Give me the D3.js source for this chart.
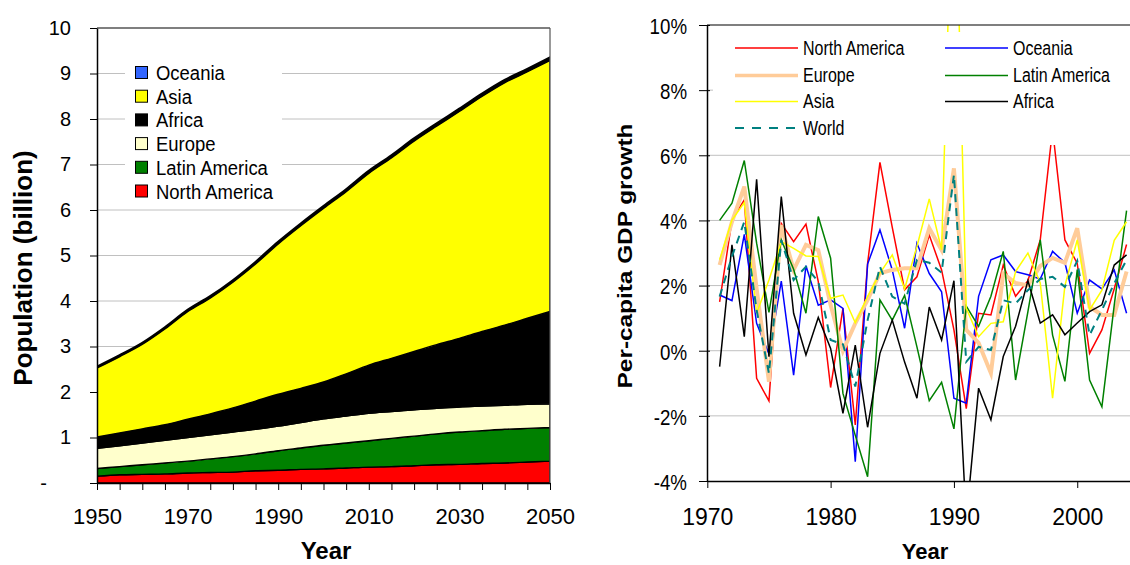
<!DOCTYPE html>
<html>
<head>
<meta charset="utf-8">
<script src="https://cdn.jsdelivr.net/npm/d3@7"></script>
<style>
  body { margin: 0; background: #fff; }
  svg { display: block; font-family: "Liberation Sans", Arial, sans-serif; }
</style>
</head>
<body>
<svg id="chart" width="1130" height="565"></svg>
<script>
// ---------- Left chart data (billion) ----------
const popYears = d3.range(1950, 2051, 5);
const northAmerica = [0.15,0.18,0.19,0.20,0.22,0.23,0.24,0.27,0.28,0.30,0.31,0.33,0.35,0.36,0.38,0.40,0.41,0.43,0.44,0.46,0.48];
const latinAmerica = [0.17,0.18,0.21,0.24,0.26,0.30,0.34,0.37,0.43,0.47,0.52,0.55,0.58,0.62,0.65,0.68,0.71,0.72,0.74,0.74,0.74];
const europe       = [0.44,0.46,0.48,0.50,0.52,0.53,0.54,0.54,0.54,0.56,0.58,0.59,0.60,0.59,0.58,0.56,0.55,0.54,0.53,0.53,0.52];
const africa       = [0.25,0.28,0.31,0.34,0.40,0.46,0.53,0.62,0.70,0.75,0.81,0.93,1.06,1.17,1.28,1.40,1.51,1.64,1.76,1.89,2.03];
const asia         = [1.53,1.69,1.87,2.12,2.38,2.56,2.78,3.03,3.32,3.59,3.83,4.02,4.23,4.42,4.64,4.82,5.00,5.18,5.34,5.43,5.53];
const oceania      = [0.013,0.014,0.016,0.018,0.019,0.021,0.023,0.025,0.027,0.029,0.031,0.033,0.035,0.037,0.039,0.041,0.042,0.044,0.045,0.047,0.048];
const popKeys   = ["North America","Latin America","Europe","Africa","Asia","Oceania"];
const popSeries = [northAmerica, latinAmerica, europe, africa, asia, oceania];
const popColors = ["#FF0000","#008000","#FFFFCC","#000000","#FFFF00","#3366FF"];
const popYTicks = [0,1,2,3,4,5,6,7,8,9,10];
const popXTicks = d3.range(1950, 2051, 5);

// ---------- Right chart data (% per-capita GDP growth) ----------
const gdpYears = d3.range(1971, 2005);
const gdpNorthAmerica = [1.5,4.01,4.63,-0.85,-1.54,3.91,3.35,3.89,2.12,-1.13,1.3,-2.28,2.68,5.78,3.79,1.87,2.27,3.55,2.48,0.64,-1.78,1.15,1.1,2.63,1.67,2.15,3.4,6.8,3.4,2.68,-0.08,0.64,1.9,3.26];
const gdpOceania      = [1.71,1.54,3.57,0.84,-0.1,2.14,-0.75,2.61,1.4,1.56,1.3,-3.41,2.66,3.71,2.48,0.69,3.3,2.37,1.81,-1.46,-1.61,1.67,2.79,2.94,2.43,2.33,2.2,3.05,2.7,1.15,2.17,1.9,2.48,1.15];
const gdpEurope       = [2.63,3.96,5.04,1.9,-0.95,3.86,2.48,3.25,3.09,1.4,0.0,0.84,1.56,2.38,2.48,2.53,2.53,3.76,3.09,5.6,0.64,0.24,-0.69,2.37,2.08,2.0,2.6,2.85,2.7,3.76,1.35,1.1,1.1,2.43];
const gdpLatinAmerica = [4.0,4.53,5.84,3.3,1.18,3.4,2.5,1.15,4.12,2.84,-1.31,-2.6,-3.87,1.56,0.94,1.7,0.12,-1.53,-0.97,-2.4,1.37,0.75,1.67,3.05,-0.9,1.2,3.4,0.48,-0.94,2.49,-0.9,-1.72,1.4,4.3];
const gdpAsia         = [2.79,4.01,4.55,1.15,2.17,3.35,3.14,2.91,2.89,1.61,1.71,0.86,1.66,2.38,2.94,1.9,3.2,4.66,3.1,16.5,1.3,0.43,0.84,0.89,2.43,3.0,2.08,-1.46,2.0,3.4,1.25,1.86,3.39,3.96];
const gdpAfrica       = [-0.49,3.25,0.43,5.26,-0.18,4.73,1.15,-0.13,1.02,0.07,-1.92,0.17,-2.35,-0.08,0.94,-0.35,-1.46,1.34,0.33,2.15,-5.2,-1.15,-2.12,-0.18,0.75,2.15,0.85,1.1,0.49,0.85,1.2,1.41,2.63,2.94];
const gdpWorld        = [1.66,2.89,3.96,1.25,-0.7,3.4,2.17,2.58,2.12,0.33,0.2,-1.1,0.94,2.58,1.66,1.44,2.79,2.7,2.4,5.4,-0.34,0.12,0.02,1.55,1.45,1.86,2.2,2.27,1.96,2.76,0.48,1.25,2.07,2.79];
const gdpNames  = ["North America","Oceania","Europe","Latin America","Asia","Africa","World"];
const gdpSeries = [gdpNorthAmerica,gdpOceania,gdpEurope,gdpLatinAmerica,gdpAsia,gdpAfrica,gdpWorld];
const gdpColors = ["#FF0000","#0000FF","#FFCC99","#008000","#FFFF00","#000000","#008080"];
const gdpWidths = [1.5,1.5,4,1.5,1.5,1.5,2];
const gdpDash   = [null,null,null,null,null,null,"8,6"];
const gdpYTicks = [-4,-2,0,2,4,6,8,10];
const gdpXTicks = [1970,1980,1990,2000];

const svg = d3.select("#chart");

// ================= LEFT CHART =================
const xL = d3.scaleLinear().domain([1950, 2050]).range([97, 550]);
const yL = d3.scaleLinear().domain([0, 10]).range([483, 28]);

const popTable = popYears.map((yr, i) => {
  const row = { year: yr };
  popKeys.forEach((k, j) => row[k] = popSeries[j][i]);
  return row;
});
const stacked = d3.stack().keys(popKeys)(popTable);

const gL = svg.append("g");
gL.selectAll(".gridL").data(popYTicks.filter(v => v > 0 && v < 10)).join("line")
  .attr("x1", 97).attr("x2", 550)
  .attr("y1", d => yL(d)).attr("y2", d => yL(d))
  .attr("stroke", "#c0c0c0").attr("stroke-width", 1);

gL.append("clipPath").attr("id", "clipL").append("rect")
  .attr("x", 97).attr("y", 28).attr("width", 453).attr("height", 455);

const area = d3.area()
  .curve(d3.curveMonotoneX)
  .x(d => xL(d.data.year))
  .y0(d => yL(d[0]))
  .y1(d => yL(d[1]));

gL.append("g").attr("clip-path", "url(#clipL)")
  .selectAll("path").data(stacked).join("path")
  .attr("d", area)
  .attr("fill", (d, i) => popColors[i])
  .attr("stroke", "#000")
  .attr("stroke-width", (d, i) => i === 5 ? 2.5 : 1.4)
  .attr("stroke-linejoin", "round");

gL.append("line").attr("x1", 97).attr("x2", 550).attr("y1", 28).attr("y2", 28).attr("stroke", "#000").attr("stroke-width", 1.2);
gL.append("line").attr("x1", 550).attr("x2", 550).attr("y1", 28).attr("y2", 483).attr("stroke", "#555").attr("stroke-width", 1.2);

const axL = gL.append("g").attr("transform", "translate(97,0)")
  .call(d3.axisLeft(yL).tickValues(popYTicks).tickSize(7).tickSizeOuter(0).tickPadding(19).tickFormat(d => d === 0 ? "-" : d));
axL.selectAll("text").attr("font-size", 20).attr("fill", "#000").attr("font-family", "Liberation Sans, Arial, sans-serif");
axL.selectAll(".tick").filter(d => d === 0).select("text").attr("x", -50);
axL.select(".domain").attr("stroke", "#000").attr("stroke-width", 1.5);
axL.selectAll(".tick line").attr("stroke", "#000");

const axLB = gL.append("g").attr("transform", "translate(0,483)")
  .call(d3.axisBottom(xL).tickValues(popXTicks).tickSize(7).tickSizeOuter(0).tickPadding(18).tickFormat(d => d % 20 === 10 ? d : ""));
axLB.selectAll("text").attr("font-size", 22).attr("fill", "#000").attr("font-family", "Liberation Sans, Arial, sans-serif");
axLB.select(".domain").attr("stroke", "#000").attr("stroke-width", 1.5);
axLB.selectAll(".tick line").attr("stroke", "#000");

gL.append("rect").attr("x", 125).attr("y", 55).attr("width", 157).attr("height", 145).attr("fill", "#fff");
const legL = gL.append("g");
const legOrder = [5,4,3,2,1,0];
legOrder.forEach((si, r) => {
  const cy = 72.5 + r * 23.7;
  legL.append("rect").attr("x", 135.5).attr("y", cy - 6).attr("width", 12).attr("height", 12)
    .attr("fill", popColors[si]).attr("stroke", "#000").attr("stroke-width", 1);
  legL.append("text").attr("transform", `translate(156,${cy + 7.5}) scale(0.88,1)`)
    .attr("font-size", 21).attr("fill", "#000").text(popKeys[si]);
});

gL.append("text").attr("transform", "translate(32,268) rotate(-90)")
  .attr("text-anchor", "middle").attr("font-size", 26).attr("font-weight", "bold").text("Population (billion)");
gL.append("text").attr("x", 326).attr("y", 559)
  .attr("text-anchor", "middle").attr("font-size", 24).attr("font-weight", "bold").text("Year");

// ================= RIGHT CHART =================
const xR = d3.scaleLinear().domain([1970, 2005]).range([707.3, 1138.9]);
const yR = d3.scaleLinear().domain([-4, 10]).range([481, 25]);
const gR = svg.append("g");

gR.selectAll(".gridR").data(gdpYTicks.filter(v => v > -4 && v < 10)).join("line")
  .attr("x1", 707).attr("x2", 1139)
  .attr("y1", d => yR(d)).attr("y2", d => yR(d))
  .attr("stroke", "#c0c0c0").attr("stroke-width", 1);

gR.append("clipPath").attr("id", "clipR").append("rect")
  .attr("x", 707).attr("y", 25).attr("width", 432).attr("height", 456);

const line = d3.line().x((d, i) => xR(gdpYears[i])).y(d => yR(d));
gR.append("g").attr("clip-path", "url(#clipR)")
  .selectAll("path").data(gdpSeries).join("path")
  .attr("d", line)
  .attr("fill", "none")
  .attr("stroke", (d, i) => gdpColors[i])
  .attr("stroke-width", (d, i) => gdpWidths[i])
  .attr("stroke-dasharray", (d, i) => gdpDash[i])
  .attr("stroke-linejoin", "miter");

gR.append("rect").attr("x", 713).attr("y", 32).attr("width", 420).attr("height", 113).attr("fill", "#fff");
const legPos = [[0,0],[1,0],[0,1],[1,1],[0,2],[1,2],[0,3]];
const rowY = [48, 75.5, 101.5, 128];
const colX = [735, 945];
gdpNames.forEach((name, i) => {
  const [c, r] = legPos[i];
  const y = rowY[r], x = colX[c];
  gR.append("line").attr("x1", x).attr("x2", x + 63).attr("y1", y).attr("y2", y)
    .attr("stroke", gdpColors[i]).attr("stroke-width", gdpWidths[i] === 4 ? 3.5 : gdpWidths[i])
    .attr("stroke-dasharray", gdpDash[i] ? "9,8" : null);
  gR.append("text").attr("transform", `translate(${x + 68},${y + 6.5}) scale(0.8,1)`)
    .attr("font-size", 20).attr("fill", "#000").text(name);
});

gR.append("line").attr("x1", 707).attr("x2", 1139).attr("y1", 25).attr("y2", 25).attr("stroke", "#000").attr("stroke-width", 1.2);

const axR = gR.append("g").attr("transform", "translate(707,0)")
  .call(d3.axisLeft(yR).tickValues(gdpYTicks).tickSize(8).tickSizeOuter(0).tickFormat(d => d + "%"));
axR.selectAll(".tick line").attr("x1", 3).attr("stroke", "#000");
axR.selectAll("text").attr("x", 0).attr("dy", "0.38em")
  .attr("transform", "translate(-20,0) scale(0.85,1)")
  .attr("font-size", 22).attr("fill", "#000").attr("font-family", "Liberation Sans, Arial, sans-serif");
axR.select(".domain").attr("stroke", "#000").attr("stroke-width", 1.5);

const axRB = gR.append("g").attr("transform", "translate(0,481)")
  .call(d3.axisBottom(xR).tickValues(gdpXTicks).tickSize(7).tickSizeOuter(0).tickPadding(20.5).tickFormat(d => d));
axRB.selectAll("text").attr("font-size", 23).attr("fill", "#000").attr("font-family", "Liberation Sans, Arial, sans-serif");
axRB.select(".domain").attr("stroke", "#000").attr("stroke-width", 1.5);
axRB.selectAll(".tick line").attr("stroke", "#000");

gR.append("text").attr("transform", "translate(632,256) rotate(-90) scale(1.16,1)")
  .attr("text-anchor", "middle").attr("font-size", 21).attr("font-weight", "bold").text("Per-capita GDP growth");
gR.append("text").attr("x", 925).attr("y", 559)
  .attr("text-anchor", "middle").attr("font-size", 22).attr("font-weight", "bold").text("Year");
</script>
</body>
</html>
